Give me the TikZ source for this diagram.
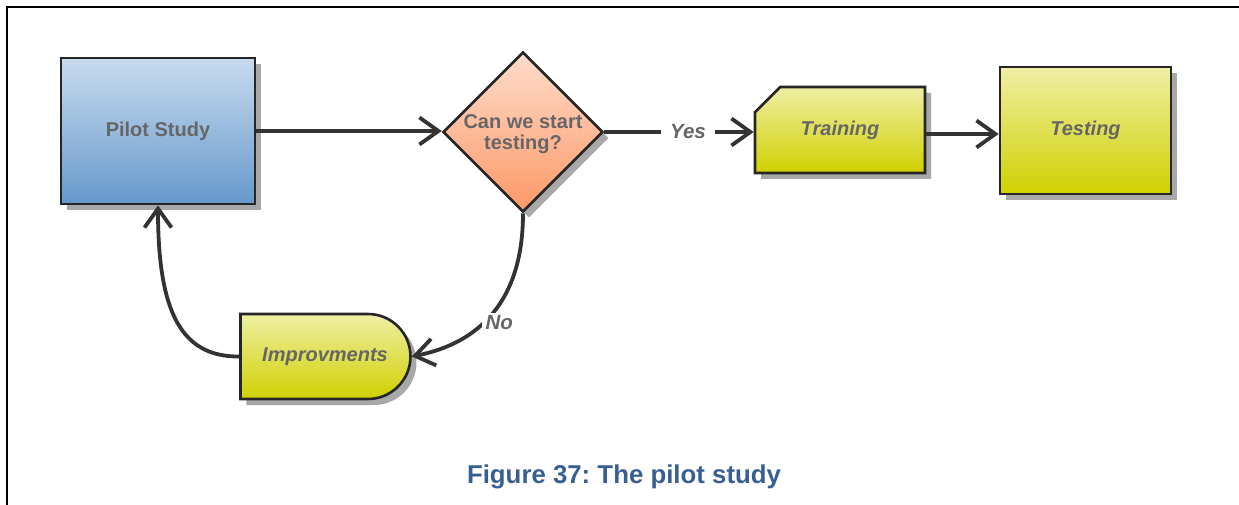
\documentclass[tikz,border=0pt]{standalone}
\usepackage{fontspec}
\setmainfont{Liberation Sans}
\frenchspacing
\usetikzlibrary{shapes.geometric,shapes.misc,arrows.meta,shadows}

\definecolor{boxline}{HTML}{262626}
\definecolor{wire}{HTML}{333333}
\definecolor{labelgray}{HTML}{666666}
\definecolor{shadowgray}{HTML}{A8A8A8}
\definecolor{blueTop}{HTML}{C8DBEE}
\definecolor{blueBot}{HTML}{6699CC}
\definecolor{orangeTop}{HTML}{FEDCCC}
\definecolor{orangeBot}{HTML}{FD9966}
\definecolor{yellowTop}{HTML}{EFEFA6}
\definecolor{yellowBot}{HTML}{D0D000}
\definecolor{captionblue}{HTML}{385F92}

\begin{document}
\begin{tikzpicture}[x=1pt,y=-1pt,
  boxbase/.style={draw=boxline, line width=2.6pt, text=labelgray,
    font=\fontsize{20}{23}\selectfont\bfseries, inner sep=0pt,
    drop shadow={shadow xshift=6pt, shadow yshift=-6pt, fill=shadowgray, opacity=1}},
  bluebox/.style={boxbase, rectangle, top color=blueTop, bottom color=blueBot},
  yellowfill/.style={top color=yellowTop, bottom color=yellowBot},
  decision/.style={boxbase, diamond, aspect=1, top color=orangeTop, bottom color=orangeBot},
  flow/.style={draw=wire, line width=3.8pt,
    -{Straight Barb[length=19pt, width=27pt, line width=3.8pt]}},
  edgelabel/.style={fill=white, text=labelgray, inner xsep=9pt, inner ysep=3pt,
    font=\fontsize{20.5}{23}\selectfont\bfseries\itshape},
  frameline/.style={draw=black, line width=2.4pt}
]
\useasboundingbox (0,0) rectangle (1239,505);

% page frame (left and top rules)
\draw[frameline] (7,505) -- (7,7) -- (1239,7);

% process steps
\node[bluebox, minimum width=194pt, minimum height=146pt] (pilot) at (158,131) {Pilot Study};

\node[decision, minimum width=160pt, minimum height=160pt] (dia) at (523,132) {};
\node[align=center, text=labelgray, font=\fontsize{20}{21.5}\selectfont\bfseries, inner sep=0pt]
  (diatext) at (523,134) {Can we start\\testing?};

\node[boxbase, yellowfill, chamfered rectangle, chamfered rectangle corners=north west,
  chamfered rectangle xsep=34pt, chamfered rectangle ysep=16pt,
  minimum width=170pt, minimum height=86pt, font=\fontsize{20}{23}\selectfont\bfseries\itshape]
  (train) at (840,130) {Training};

\node[boxbase, yellowfill, rectangle, minimum width=171pt, minimum height=127pt,
  font=\fontsize{20}{23}\selectfont\bfseries\itshape]
  (test) at (1085.5,130.5) {Testing};

\node[boxbase, yellowfill, rounded rectangle, rounded rectangle left arc=none,
  minimum width=170pt, minimum height=85pt, font=\fontsize{20}{23}\selectfont\bfseries\itshape]
  (impr) at (325,356.5) {Improvments};

% connectors
\draw[flow] (pilot.east) -- (pilot.east -| dia.west);
\draw[flow] (dia.east) -- node[edgelabel, pos=0.56] (yes) {Yes} (dia.east -| train.west);
\draw[flow] ([yshift=-4pt]train.east) -- ([yshift=-4pt]train.east -| test.west);
\draw[flow] (dia.south) .. controls (523,310) and (470,345) .. node[edgelabel, pos=0.5, xshift=10pt, yshift=-6pt, inner xsep=4pt] (no) {No} (impr.east);
\draw[flow] (impr.west) .. controls (180,357) and (158,310) .. (pilot.south);

% caption
\node[text=captionblue, font=\fontsize{25.8}{30}\selectfont\bfseries, anchor=base] (caption) at (624,483) {Figure 37: The pilot study};
\end{tikzpicture}
\end{document}
